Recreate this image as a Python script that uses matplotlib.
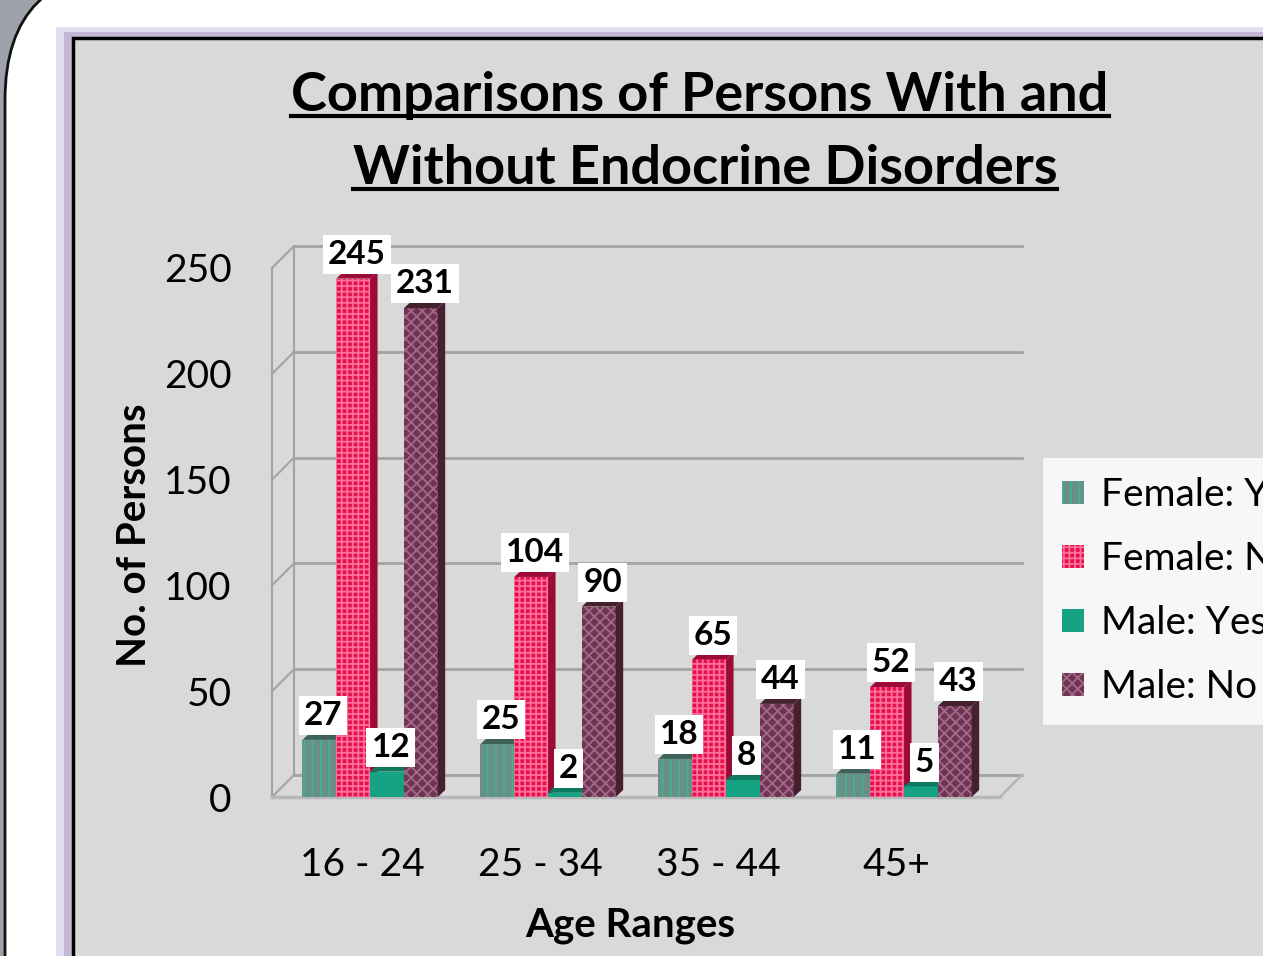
import numpy as np
import matplotlib
matplotlib.use('Agg')
from matplotlib import pyplot as plt
from matplotlib.patches import Rectangle, FancyBboxPatch, Polygon, Patch
from matplotlib.lines import Line2D
import matplotlib.transforms as mtransforms

# data
age_ranges = ['16 - 24', '25 - 34', '35 - 44', '45+']
series_names = ['Female: Yes', 'Female: No', 'Male: Yes', 'Male: No']
female_yes = [27, 25, 18, 11]
female_no = [245, 104, 65, 52]
male_yes = [12, 2, 8, 5]
male_no = [231, 90, 44, 43]
y_ticks = [0, 50, 100, 150, 200, 250]

values = [female_yes, female_no, male_yes, male_no]
faces = ['#6a8f87', '#e3124c', '#15a384', '#6e3552']
hatch_cols = ['#3fb392', '#ff6f9c', '#15a384', '#a4698a']
hatches = ['||', '+++', '', 'xxx']
sides = ['#3e625a', '#9c0a36', '#0d7a60', '#45202f']

plt.rcParams['font.family'] = ['Lato', 'DejaVu Sans']
plt.rcParams['hatch.linewidth'] = 1.3

W, H = 1263, 956
fig = plt.figure(figsize=(W / 100, H / 100), dpi=100)
fig.patch.set_facecolor('white')

# background frame, drawn in pixel coordinates
bg = fig.add_axes([0, 0, 1, 1], zorder=-5)
bg.set_xlim(0, W)
bg.set_ylim(H, 0)
bg.axis('off')
bg.add_patch(Rectangle((0, 0), W, H, fc='#9da2aa', ec='none'))
bg.add_patch(FancyBboxPatch((5, -30), 3000, 3000, boxstyle='round,pad=0,rounding_size=130',
                            fc='white', ec='#111111', lw=2))
bg.add_patch(Rectangle((56, 27), 3000, 3000, fc='#e4ddef', ec='none'))
bg.add_patch(Rectangle((64, 32), 3000, 3000, fc='#c4b7d6', ec='none'))
bg.add_patch(Rectangle((73, 38), 3000, 3000, fc='#d9d9d9', ec='black', lw=2.5))

# main plot area
ax = fig.add_axes([272 / W, (H - 797) / H, 728 / W, 529 / H])
ax.patch.set_alpha(0)
xmin, xmax = -0.551, 3.539
ax.set_xlim(xmin, xmax)
ax.set_ylim(0, 250)
for s in ax.spines.values():
    s.set_visible(False)

back = ax.transData + mtransforms.ScaledTranslation(0.22, 0.22, fig.dpi_scale_trans)
grid_col = '#a3a3a3'
for v in y_ticks:
    ax.plot([xmin, xmax], [v, v], color=grid_col, lw=2, transform=back, zorder=1, clip_on=False)
    # left wall connector
    p0 = ax.transData.transform((xmin, v))
    p1 = back.transform((xmin, v))
    ax.add_line(Line2D([p0[0], p1[0]], [p0[1], p1[1]], color=grid_col, lw=1.5,
                       transform=None, zorder=1, clip_on=False))
ax.plot([xmin, xmin], [0, 250], color=grid_col, lw=1.5, zorder=1, clip_on=False)
ax.plot([xmin, xmin], [0, 250], color=grid_col, lw=1.5, transform=back, zorder=1, clip_on=False)
ax.plot([xmin, xmax], [0, 0], color='#b8b8b8', lw=2.5, zorder=1, clip_on=False)
q0 = ax.transData.transform((xmax, 0))
q1 = back.transform((xmax, 0))
ax.add_line(Line2D([q0[0], q1[0]], [q0[1], q1[1]], color='#b8b8b8', lw=2,
                   transform=None, zorder=1, clip_on=False))

x = np.arange(len(age_ranges))
bw = 0.19
dx = 0.042
dy = 3.3
for k in range(4):
    xs = x + (k - 1.5) * bw
    ax.bar(xs, values[k], width=bw, color=faces[k], edgecolor=hatch_cols[k],
           hatch=hatches[k], lw=0, zorder=3 + k)
    for i in range(len(x)):
        h = values[k][i]
        x0 = xs[i] - bw / 2
        x1 = xs[i] + bw / 2
        ax.add_patch(Polygon([(x1, 0), (x1 + dx, dy), (x1 + dx, h + dy), (x1, h)],
                             closed=True, fc=sides[k], ec='none', zorder=3 + k, clip_on=False))
        ax.add_patch(Polygon([(x0, h), (x0 + dx, h + dy), (x1 + dx, h + dy), (x1, h)],
                             closed=True, fc=sides[k], ec='none', zorder=3 + k, clip_on=False))
        ax.annotate(str(h), (xs[i] + dx / 2, h + dy), xytext=(0, 2), textcoords='offset points',
                    ha='center', va='bottom', fontsize=24, fontweight='bold', color='black',
                    bbox=dict(boxstyle='square,pad=0.15', fc='white', ec='none'), zorder=20)

ax.set_yticks(y_ticks)
ax.set_yticklabels([str(v) for v in y_ticks], fontsize=28)
ax.set_xticks(x - 0.045)
ax.set_xticklabels(age_ranges, fontsize=28)
ax.tick_params(axis='y', length=0, pad=29)
ax.tick_params(axis='x', length=0, pad=36)

fig.text(135 / W, 1 - 535 / H, 'No. of Persons', rotation=90, ha='center', va='center',
         fontsize=29, fontweight='bold')
fig.text(630 / W, 1 - 925 / H, 'Age Ranges', ha='center', va='center',
         fontsize=29, fontweight='bold')

# title, two underlined lines
t1 = fig.text(700 / W, 1 - 95 / H, 'Comparisons of Persons With and', ha='center', va='center',
              fontsize=39, fontweight='bold')
t2 = fig.text(705 / W, 1 - 168 / H, 'Without Endocrine Disorders', ha='center', va='center',
              fontsize=39, fontweight='bold')
fig.canvas.draw()
r = fig.canvas.get_renderer()
for t in [t1, t2]:
    bb = t.get_window_extent(r)
    yl = bb.y0 + 4
    fig.add_artist(Line2D([bb.x0, bb.x1], [yl, yl], color='black', lw=3, transform=None))

handles = [Patch(facecolor=faces[k], edgecolor=hatch_cols[k], hatch=hatches[k], lw=0)
           for k in range(4)]
leg = fig.legend(handles, series_names, loc='upper left', bbox_to_anchor=(1043 / W, 1 - 458 / H),
                 fontsize=28, frameon=True, fancybox=False, handlelength=0.55, handleheight=0.55,
                 handletextpad=0.45, labelspacing=0.72, borderpad=0.5, borderaxespad=0)
leg.get_frame().set_facecolor('white')
leg.get_frame().set_edgecolor('none')

plt.savefig('out.png', dpi=100)
